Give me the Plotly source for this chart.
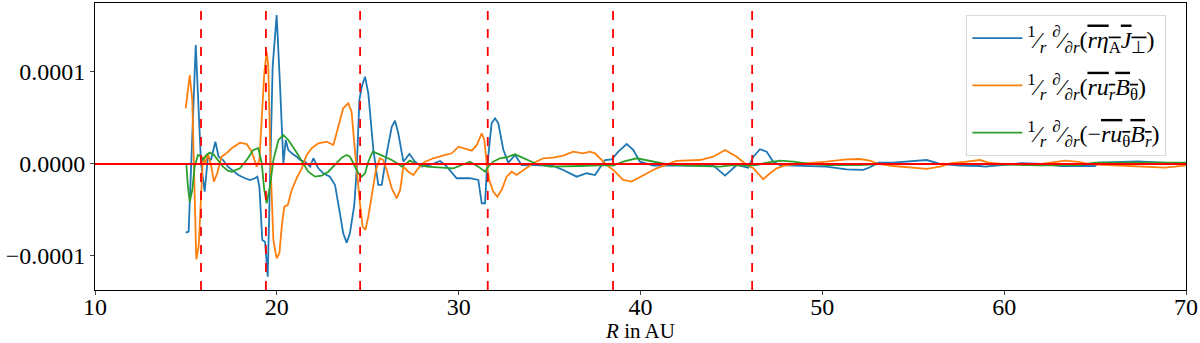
import numpy as np
import plotly.graph_objects as go

# radius in AU and the three terms (values in units of 1e-5)
rBlue = [14.99, 15.15, 15.54, 15.83, 16.03, 16.21, 16.38, 16.62, 16.80, 17.04, 17.31, 17.52, 17.88, 18.25,
         18.52, 18.80, 18.93, 19.04, 19.20, 19.35, 19.50, 19.77, 19.99, 20.17, 20.36, 20.49, 20.63, 20.82,
         21.09, 21.28, 21.55, 21.83, 22.01, 22.28, 22.56, 22.92, 23.20, 23.47, 23.65, 23.84, 24.02, 24.26,
         24.39, 24.54, 24.67, 24.85, 25.03, 25.31, 25.58, 25.77, 26.04, 26.32, 26.50, 26.68, 26.96, 27.29,
         27.60, 27.97, 28.43, 28.98, 29.35, 29.89, 30.62, 31.08, 31.27, 31.45, 31.54, 31.68, 31.81, 32.00,
         32.18, 32.46, 32.73, 33.10, 33.46, 34.10, 35.20, 35.75, 36.49, 37.04, 37.50, 38.05, 38.42, 38.78,
         39.24, 39.61, 39.97, 40.71, 42.17, 44.01, 44.65, 45.29, 45.93, 46.21, 46.57, 46.94, 47.30, 47.67,
         48.40, 50.23, 51.33, 52.25, 52.62, 53.08, 53.90, 54.82, 55.74, 56.47, 57.57, 58.67, 58.95, 59.87,
         60.96, 62.06, 63.16, 64.08, 65.00, 65.18, 66.10, 67.38, 68.67, 70.0]
blueVals = [-7.47, -7.36, 12.93, 0.1, -3.01, 0.79, 0.43, 2.42, 0.79, 0.43, -0.29, -0.65, -1.20, -1.55,
            -1.74, -1.55, -1.38, -2.47, -8.26, -8.45, -12.25, 10.58, 16.20, 8.77, 0.08, 2.61, 1.52, 1.16,
            0.79, 0.43, 0.25, -0.29, 0.62, -0.47, -1.01, -1.38, -2.28, -5.36, -7.53, -8.55, -7.53, -4.46,
            -0.65, 6.96, 8.40, 9.49, 7.69, 1.52, -2.28, -2.28, 1.16, 4.05, 4.7, 3.34, 0.25, 1.09,
            0.25, -0.29, -0.11, 0.33, -0.29, -1.55, -1.55, -1.74, -4.27, -4.27, -1.01, 1.88, 4.42, 4.97,
            4.42, 1.52, 0.14, 0.98, -0.11, -0.11, -0.2, -0.65, -1.38, -1.01, -1.20, 0.43, 0.51, 1.34,
            2.17, 1.52, 0.25, -0.18, -0.18, -0.18, -1.27, -0.11, -0.40, 0.79, 1.60, 1.34, 0.25, -0.11,
            -0.18, -0.29, -0.58, -0.65, -0.36, 0.14, 0.14, 0.25, 0.43, 0.0, -0.18, -0.22, -0.29, -0.11,
            0.08, 0.0, -0.22, -0.22, -0.22, 0.14, 0.22, 0.29, 0.14, 0.0]

rOrange = [14.99, 15.21, 15.35, 15.48, 15.57, 15.70, 15.81, 15.94, 16.07, 16.21, 16.40, 16.54, 16.72, 16.95,
           17.22, 17.52, 17.97, 18.34, 18.62, 18.89, 19.04, 19.17, 19.31, 19.44, 19.53, 19.66, 19.81, 19.99,
           20.14, 20.27, 20.41, 20.60, 20.82, 21.09, 21.37, 21.64, 21.92, 22.28, 22.74, 23.11, 23.38, 23.65,
           23.93, 24.11, 24.26, 24.43, 24.57, 24.72, 24.87, 25.03, 25.22, 25.45, 25.67, 25.85, 26.04, 26.32,
           26.59, 26.78, 26.96, 27.23, 27.51, 27.78, 28.15, 28.61, 29.07, 29.62, 29.99, 30.26, 30.72, 31.00,
           31.27, 31.41, 31.54, 31.68, 31.90, 32.12, 32.36, 32.64, 32.92, 33.19, 33.56, 34.10, 34.65, 35.20,
           35.75, 36.30, 36.85, 37.22, 37.50, 38.14, 38.50, 39.05, 39.51, 40.15, 40.88, 41.98, 43.27, 44.00,
           44.65, 45.29, 45.84, 46.21, 46.75, 47.12, 47.49, 48.04, 49.32, 50.23, 51.33, 52.06, 52.62, 53.08,
           53.90, 54.82, 55.74, 56.47, 57.11, 57.94, 58.67, 59.13, 59.87, 62.06, 62.79, 63.34, 64.08, 64.62,
           65.72, 66.82, 67.92, 68.84, 69.39, 70.0]
orangeVals = [6.05, 9.67, 6.96, -3.91, -10.36, -8.99, -3.91, 0.79, 0.08, 1.16, -0.29, -1.92, -1.01, 0.79,
              1.16, 1.71, 2.32, 2.17, 1.34, -0.29, 0.43, 5.14, 9.86, 12.21, 10.58, -0.29, -8.26, -10.25,
              -9.71, -6.82, -4.64, -4.46, -2.83, -1.55, -0.47, 0.98, 1.71, 2.25, 2.42, 2.07, 4.05, 6.05,
              6.60, 5.69, 2.25, -1.74, -4.27, -6.82, -7.17, -5.73, -3.18, -0.65, 0.62, 0.43, -0.65, -2.64,
              -3.73, -2.83, -0.29, -0.84, -1.20, -0.47, 0.25, 0.62, 0.87, 1.16, 1.88, 1.71, 1.45, 2.07,
              3.34, 2.61, 0.08, -1.74, -3.01, -3.55, -2.83, -1.38, -0.84, -1.20, -0.65, 0.08, 0.62, 0.69,
              0.9, 1.34, 1.16, 1.34, 1.16, -0.11, -0.65, -1.74, -1.92, -1.20, -0.47, 0.33, 0.43, 0.79,
              1.52, 0.79, -0.11, -0.47, -1.66, -1.01, -0.47, -0.11, 0.08, 0.25, 0.51, 0.54, 0.36, 0.0,
              -0.22, -0.36, -0.54, -0.29, 0.08, 0.25, 0.43, 0.14, 0.0, 0.0, 0.22, 0.36, 0.22, 0.0,
              -0.11, -0.22, -0.29, -0.40, -0.29, -0.14]

rGreen = [15.02, 15.11, 15.21, 15.35, 15.48, 15.66, 15.81, 15.94, 16.12, 16.31, 16.54, 16.76, 17.04, 17.31,
          17.52, 17.97, 18.34, 18.71, 18.98, 19.17, 19.31, 19.44, 19.62, 19.81, 20.09, 20.36, 20.63, 21.00,
          21.37, 21.73, 22.10, 22.47, 22.83, 23.20, 23.57, 23.84, 24.02, 24.21, 24.48, 24.67, 24.85, 25.03,
          25.27, 25.58, 25.95, 26.32, 26.68, 26.87, 27.32, 27.69, 28.24, 28.98, 29.71, 30.17, 30.62, 31.08,
          31.45, 31.63, 31.90, 32.27, 32.64, 33.10, 33.56, 34.29, 35.02, 35.94, 36.67, 37.40, 38.14, 38.50,
          39.05, 39.79, 40.52, 41.44, 42.54, 43.64, 44.37, 45.10, 45.84, 46.39, 46.94, 47.67, 48.40, 49.32,
          50.23, 52.06, 53.17, 56.84, 58.67, 61.97, 64.17, 65.00, 70.0]
greenVals = [0.08, -2.47, -4.10, -2.83, -0.29, 0.98, 0.87, 0.43, 0.98, 1.23, 0.98, 0.43, -0.29, -0.73,
             -0.84, -0.47, 0.43, 1.52, 1.71, 0.08, -2.83, -4.27, -2.47, 0.43, 2.61, 3.15, 2.61, 1.52,
             0.25, -0.84, -1.38, -1.27, -0.84, -0.11, 0.69, 0.98, 0.79, 0.08, -1.01, -1.38, -1.01, 0.25,
             1.34, 1.09, 0.79, 0.43, 0.0, -0.29, 0.36, 0.0, -0.29, -0.40, -0.47, -0.11, 0.25, -0.29,
             -0.84, -0.29, 0.25, 0.62, 0.73, 1.05, 0.62, 0.0, -0.29, -0.29, -0.22, -0.18, -0.11, -0.18,
             0.25, 0.62, 0.33, -0.03, -0.18, -0.22, -0.29, -0.11, -0.18, -0.11, 0.14, 0.36, 0.25, 0.0,
             -0.11, -0.11, 0.0, 0.0, 0.0, -0.14, -0.11, 0.14, 0.14]

ringRadii = [15.83, 19.4, 24.58, 31.6, 38.49, 46.14]

labels = [
    '<sup>1</sup>&#8260;<sub><i>r</i></sub> <sup>\u2202</sup>&#8260;<sub>\u2202<i>r</i></sub>(<span style="text-decoration:overline"><i>r\u03b7</i><sub>A</sub><i>J</i><sub>\u22a5</sub></span>)',
    '<sup>1</sup>&#8260;<sub><i>r</i></sub> <sup>\u2202</sup>&#8260;<sub>\u2202<i>r</i></sub>(<span style="text-decoration:overline"><i>ru</i><sub><i>r</i></sub><i>B</i><sub>\u03b8</sub></span>)',
    '<sup>1</sup>&#8260;<sub><i>r</i></sub> <sup>\u2202</sup>&#8260;<sub>\u2202<i>r</i></sub>(\u2212<span style="text-decoration:overline"><i>ru</i><sub>\u03b8</sub><i>B</i><sub><i>r</i></sub></span>)',
]
colors = ['#1f77b4', '#ff7f0e', '#2ca02c']

fig = go.Figure()
for i, (xs, ys, name, c) in enumerate(zip([rBlue, rOrange, rGreen], [blueVals, orangeVals, greenVals], labels, colors)):
    fig.add_trace(go.Scatter(x=xs, y=np.array(ys) * 1e-5, mode='lines', name=name, legendgroup=str(i),
                             line=dict(color=c, width=1.8)))

fig.add_hline(y=0, line=dict(color='red', width=1.8))
for r in ringRadii:
    fig.add_vline(x=r, line=dict(color='red', width=1.8, dash='dash'))

fig.update_xaxes(range=[10, 70], tickvals=[10, 20, 30, 40, 50, 60, 70], ticks='outside', ticklen=4,
                 ticklabelstandoff=-9,
                 showline=True, linecolor='black', mirror=True, showgrid=False, zeroline=False,
                 title=dict(text='<i>R</i> in AU', standoff=2, font=dict(size=21)))
fig.update_yaxes(range=[-1.37e-4, 1.75e-4], tickvals=[-1e-4, 0, 1e-4], tickformat='.4f', ticks='outside',
                 ticklen=4, showline=True, linecolor='black', mirror=True, showgrid=False, zeroline=False)
fig.update_layout(
    width=1200, height=343,
    margin=dict(l=95, r=14, t=3, b=53, autoexpand=False),
    plot_bgcolor='white', paper_bgcolor='white',
    font=dict(family='Liberation Serif', size=24, color='black'),
    legend=dict(x=0.982, y=0.958, xanchor='right', yanchor='top', bgcolor='rgba(255,255,255,0.8)',
                bordercolor='#d9d9d9', borderwidth=1, font=dict(size=24), tracegroupgap=13,
                itemwidth=50),
)
fig.write_html("out.html", config={'displayModeBar': False},
               post_script="document.body.style.margin='0';")
